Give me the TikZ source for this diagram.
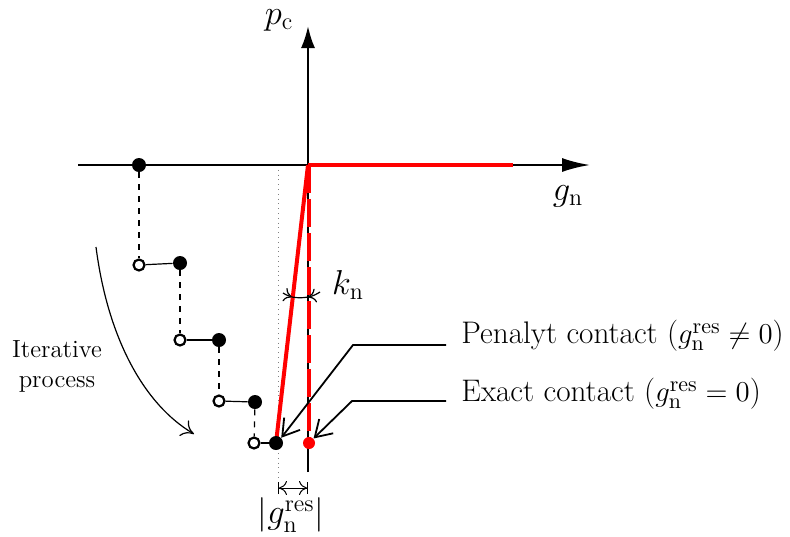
\documentclass[tikz,border=0pt]{standalone}
\usetikzlibrary{arrows.meta}
\begin{document}
\begin{tikzpicture}[x=0.5pt,y=-0.5pt,
  ax/.style={line width=1.1pt},
  redl/.style={red,line width=2pt},
  fdot/.style={circle,fill=black,inner sep=0pt,minimum size=7pt},
  odot/.style={circle,draw=black,fill=white,line width=1.1pt,inner sep=0pt,minimum size=5.5pt},
  rdot/.style={circle,fill=red,inner sep=0pt,minimum size=6pt},
  lead/.style={line width=0.9pt,-{Straight Barb[length=8pt,width=10pt]}},
  lbl/.style={font=\fontsize{15.6}{18}\selectfont,inner sep=0pt},
  mlbl/.style={font=\fontsize{18.5}{22}\selectfont,inner sep=1pt}]
\useasboundingbox (0,0) rectangle (790,536);
% coordinates
\coordinate (O) at (308,165);
\coordinate (xL) at (78,165);
\coordinate (xR) at (590,165);
\coordinate (yB) at (308,472);
\coordinate (yT) at (308,26);
\coordinate (P) at (276,443);
\coordinate (E) at (309,443);
% dotted guide
\draw[gray,line width=0.4pt,dotted] (278,165) -- (278,478);
% axes
\draw[ax,-{Latex[length=14pt,width=7pt]}] (xL) -- (xR);
\draw[ax,-{Latex[length=11pt,width=7pt]}] (yB) -- (yT);
% red law
\draw[redl] (O) -- (513,165);
\draw[redl] (O) -- (P);
\draw[redl,dash pattern=on 14pt off 3pt] (309,165) -- (E);
% iteration steps
\node[fdot] (a1) at (139,165) {};
\node[odot] (b1) at (139,265) {};
\node[fdot] (a2) at (180,263) {};
\node[odot] (b2) at (180,340) {};
\node[fdot] (a3) at (219,340) {};
\node[odot] (b3) at (219,401) {};
\node[fdot] (a4) at (255,402) {};
\node[odot] (b4) at (254,443) {};
\node[fdot] (a5) at (P) {};
\node[rdot] (r5) at (E) {};
\draw[dashed,line width=0.6pt] (a1) -- (b1);
\draw[dashed,line width=0.6pt] (a2) -- (b2);
\draw[dashed,line width=0.6pt] (a3) -- (b3);
\draw[dashed,line width=0.6pt] (a4) -- (b4);
\draw[line width=0.6pt] (b1) -- (a2);
\draw[line width=0.6pt] (b2) -- (a3);
\draw[line width=0.6pt] (b3) -- (a4);
\draw[line width=0.6pt] (b4) -- (a5);
% iterative arrow
\coordinate (itS) at (96,247);
\coordinate (itE) at (194,434);
\draw[line width=0.6pt,-{To[length=6pt,width=9pt]}] (itS) .. controls (108,340) and (145,405) .. (itE);
\node[font=\fontsize{12.4}{15}\selectfont,align=center] (it) at (57,366) {Iterative\\process};
% k_n angle
\draw[line width=0.6pt,-{To[length=4pt,width=7pt]}] (283,293) .. controls (286,295) and (289,296) .. (292,297);
\draw[line width=0.6pt] (292,297) .. controls (297,298) and (303,298) .. (308,297);
\draw[line width=0.6pt,-{To[length=4pt,width=7pt]}] (320,292) .. controls (317,294) and (313,296) .. (308,297);
\node[mlbl] (kn) at (348,285) {$k_\mathrm{n}$};
% axis labels
\node[mlbl] (pc) at (279,20) {$p_\mathrm{c}$};
\node[mlbl] (gn) at (568,196) {$g_\mathrm{n}$};
% dimension
\coordinate (d1) at (278,488);
\coordinate (d2) at (308,488);
\draw[line width=0.5pt,{Bar[width=6pt]To[length=4pt,width=7pt]}-{To[length=4pt,width=7pt]Bar[width=6pt]}] (d1) -- (d2);
\node[mlbl] (gres) at (291,515) {$|g_\mathrm{n}^\mathrm{res}|$};
% leaders and texts
\node[lbl,anchor=west] (pen) at (461,336) {Penalyt contact ($g_\mathrm{n}^\mathrm{res}\neq 0$)};
\node[lbl,anchor=west] (ex) at (461,394) {Exact contact ($g_\mathrm{n}^\mathrm{res}= 0$)};
\coordinate (pk) at (353,345);
\coordinate (ek) at (352,401);
\draw[lead] (446,345) -- (pk) -- (a5.north east);
\draw[lead] (446,401) -- (ek) -- (r5.north east);
\end{tikzpicture}
\end{document}
